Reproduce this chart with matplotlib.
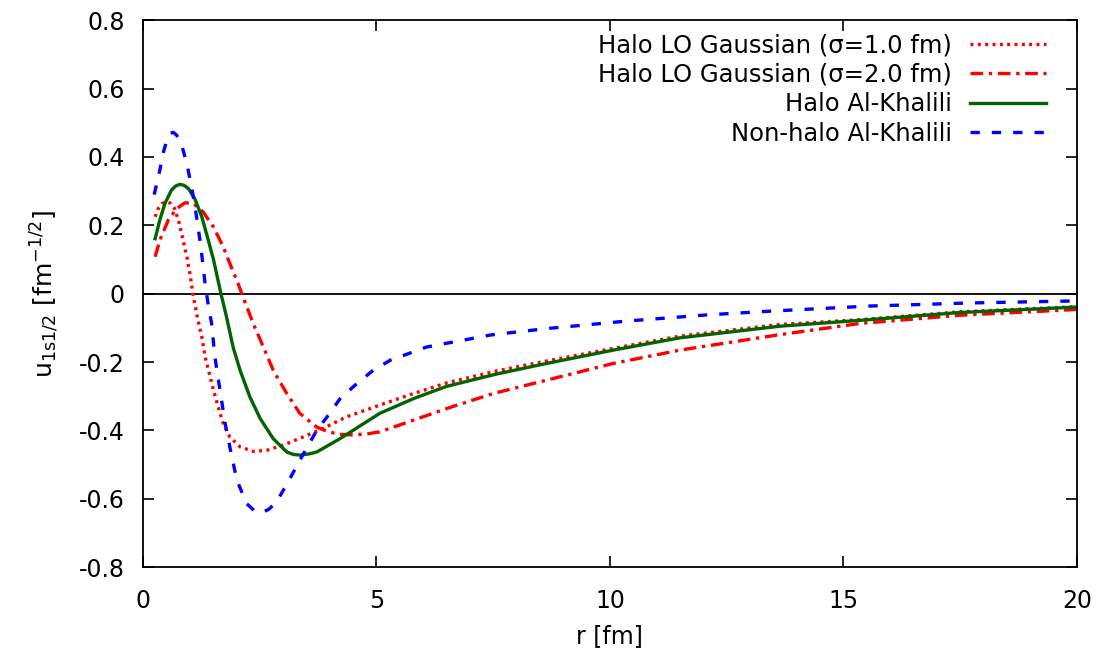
import matplotlib
matplotlib.use("Agg")
import matplotlib.pyplot as plt
from matplotlib.ticker import FormatStrFormatter, MultipleLocator

plt.rcParams["font.family"] = ["DejaVu Sans"]
plt.rcParams["mathtext.default"] = "regular"
plt.rcParams["axes.unicode_minus"] = False

# values
r_gauss1 = [0.26, 0.33, 0.40, 0.50, 0.60, 0.68, 0.76, 0.86, 0.94, 1.01, 1.08, 1.18, 1.26,
            1.33, 1.42, 1.51, 1.61, 1.72, 1.86, 2.08, 2.36, 2.65, 3.00, 3.43, 3.86, 4.36,
            5.07, 5.79, 6.50, 7.57, 8.64, 10.07, 11.50, 13.64, 15.35, 17.49, 20.0]
u_gauss1 = [0.225, 0.250, 0.263, 0.269, 0.264, 0.248, 0.215, 0.156, 0.108, 0.055, -0.009,
            -0.078, -0.126, -0.185, -0.233, -0.282, -0.331, -0.380, -0.419, -0.448, -0.461,
            -0.458, -0.443, -0.419, -0.394, -0.360, -0.326, -0.292, -0.261, -0.226, -0.197,
            -0.160, -0.124, -0.090, -0.076, -0.053, -0.038]

r_gauss2 = [0.26, 0.36, 0.54, 0.72, 0.90, 1.08, 1.29, 1.51, 1.72, 1.90, 2.05, 2.15, 2.36,
            2.58, 2.79, 3.08, 3.36, 3.72, 3.95, 4.20, 4.50, 4.80, 5.07, 5.79, 6.50, 7.50,
            8.64, 10.07, 11.50, 13.57, 15.35, 17.49, 20.0]
u_gauss2 = [0.108, 0.156, 0.215, 0.249, 0.266, 0.264, 0.239, 0.195, 0.137, 0.075, 0.025,
            -0.012, -0.087, -0.156, -0.224, -0.292, -0.350, -0.390, -0.403, -0.411, -0.413,
            -0.410, -0.404, -0.370, -0.336, -0.292, -0.253, -0.204, -0.165, -0.121, -0.087,
            -0.063, -0.046]

r_halo = [0.26, 0.36, 0.47, 0.61, 0.70, 0.79, 0.88, 0.97, 1.11, 1.26, 1.40, 1.51, 1.67,
          1.79, 1.93, 2.08, 2.29, 2.51, 2.79, 3.08, 3.22, 3.36, 3.54, 3.72, 4.22, 5.07,
          5.79, 6.50, 7.57, 8.64, 10.07, 11.50, 13.64, 15.35, 17.49, 20.0]
u_halo = [0.161, 0.215, 0.264, 0.303, 0.315, 0.320, 0.317, 0.308, 0.278, 0.225, 0.156,
          0.100, 0.0, -0.068, -0.156, -0.224, -0.302, -0.365, -0.424, -0.463, -0.470,
          -0.472, -0.469, -0.463, -0.424, -0.350, -0.307, -0.271, -0.235, -0.204, -0.165,
          -0.129, -0.095, -0.078, -0.055, -0.039]

r_nonhalo = [0.24, 0.36, 0.44, 0.51, 0.58, 0.65, 0.72, 0.83, 0.94, 1.04, 1.11, 1.18, 1.24,
             1.33, 1.40, 1.47, 1.54, 1.65, 1.76, 1.86, 2.01, 2.22, 2.38, 2.54, 2.70, 2.86,
             3.11, 3.36, 3.72, 4.00, 4.22, 4.58, 4.93, 5.29, 6.07, 6.93, 7.43, 8.64, 10.36,
             12.07, 13.43, 15.57, 17.71, 20.0]
u_nonhalo = [0.290, 0.361, 0.415, 0.449, 0.469, 0.472, 0.464, 0.434, 0.381, 0.312, 0.259,
             0.195, 0.137, 0.030, -0.035, -0.087, -0.185, -0.282, -0.380, -0.448, -0.545,
             -0.614, -0.634, -0.641, -0.630, -0.609, -0.550, -0.487, -0.400, -0.350, -0.307,
             -0.263, -0.224, -0.195, -0.156, -0.134, -0.121, -0.102, -0.080, -0.062, -0.051,
             -0.036, -0.027, -0.021]

labels = ["Halo LO Gaussian (σ=1.0 fm)", "Halo LO Gaussian (σ=2.0 fm)",
          "Halo Al-Khalili", "Non-halo Al-Khalili"]

fig = plt.figure(figsize=(11.17, 6.52), dpi=100)
ax = fig.add_axes([0.128, 0.130, 0.836, 0.839])

lw = 2.4
line_kw = dict(linewidth=lw, solid_joinstyle="round", dash_joinstyle="round")
ax.axhline(0, color="black", linewidth=1.3, zorder=1)
ax.plot(r_gauss1, u_gauss1, color="#ff0000", dashes=(0.9, 1.3), label=labels[0], **line_kw)
ax.plot(r_gauss2, u_gauss2, color="#ff0000", dashes=(3.8, 1.7, 1.0, 1.7), label=labels[1],
        **line_kw)
ax.plot(r_halo, u_halo, color="#006400", label=labels[2], **line_kw)
ax.plot(r_nonhalo, u_nonhalo, color="#0000ff", dashes=(2.8, 3.6), label=labels[3], **line_kw)

ax.set_xlim(0, 20)
ax.set_ylim(-0.8, 0.8)
ax.xaxis.set_major_locator(MultipleLocator(5))
ax.yaxis.set_major_locator(MultipleLocator(0.2))
ax.yaxis.set_major_formatter(FormatStrFormatter("%g"))
ax.tick_params(direction="in", length=8, width=1.2, top=True, right=True, labelsize=17)
ax.tick_params(axis="y", pad=13)
ax.tick_params(axis="x", pad=16)
for spine in ax.spines.values():
    spine.set_linewidth(1.3)

ax.set_xlabel("r [fm]", fontsize=17, labelpad=8)
ax.set_ylabel(r"u$_{1s1/2}$ [fm$^{-1/2}$]", fontsize=18, labelpad=13)

leg = ax.legend(loc="upper right", bbox_to_anchor=(0.981, 1.0), frameon=False,
                markerfirst=False, fontsize=17.5, handlelength=3.1, handletextpad=0.74,
                labelspacing=0.22, borderaxespad=0.15, alignment="right")
for t in leg.get_texts():
    t.set_ha("right")

fig.savefig("out.png", dpi=100)
